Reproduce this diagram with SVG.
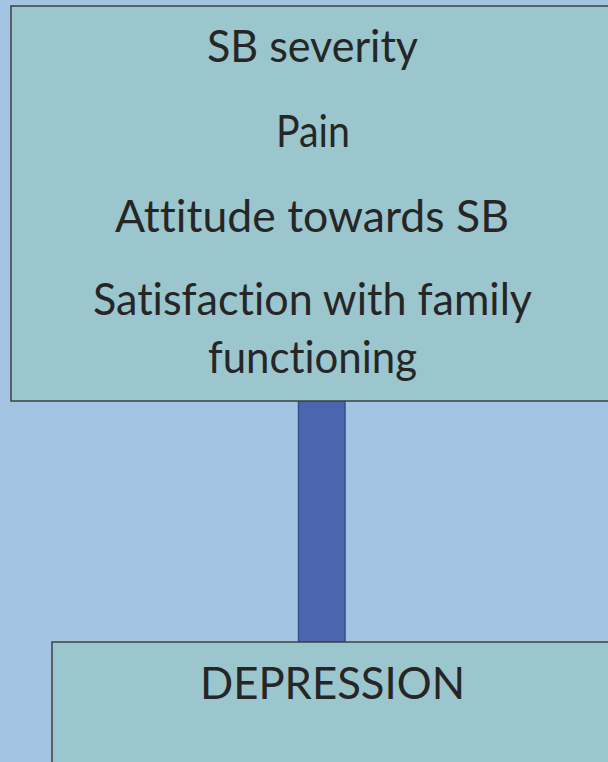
<svg xmlns="http://www.w3.org/2000/svg" width="608" height="762" viewBox="0 0 608 762">
<style>
.box{fill:#9BC6CE;stroke:#404040;stroke-width:1.5}
.t{font-family:Lato,"Open Sans","Liberation Sans",sans-serif;font-size:44px;fill:#262626;font-variant-ligatures:none;font-feature-settings:"liga" 0,"dlig" 0}
.bar{fill:#4A66AE;stroke:#34508F;stroke-width:1.5}
</style>
<rect x="0" y="0" width="608" height="762" fill="#A3C4E2"/>
<g id="connectors">
<rect class="bar" x="298.5" y="401" width="46.5" height="241"/>
</g>
<g id="factors">
<rect class="box" x="11" y="6" width="604" height="395"/>
<text class="t" x="207" y="62" textLength="211" lengthAdjust="spacingAndGlyphs">SB severity</text>
<text class="t" x="276" y="147" textLength="74" lengthAdjust="spacingAndGlyphs">Pain</text>
<text class="t" x="115" y="232" textLength="394" lengthAdjust="spacingAndGlyphs">Attitude towards SB</text>
<text class="t" x="93" y="315" textLength="439" lengthAdjust="spacingAndGlyphs">Satisfaction with family</text>
<text class="t" x="208" y="373" textLength="209" lengthAdjust="spacingAndGlyphs">functioning</text>
</g>
<g id="depression">
<rect class="box" x="52" y="642" width="565" height="130"/>
<text class="t" x="200" y="699" textLength="265" lengthAdjust="spacingAndGlyphs">DEPRESSION</text>
</g>
</svg>
